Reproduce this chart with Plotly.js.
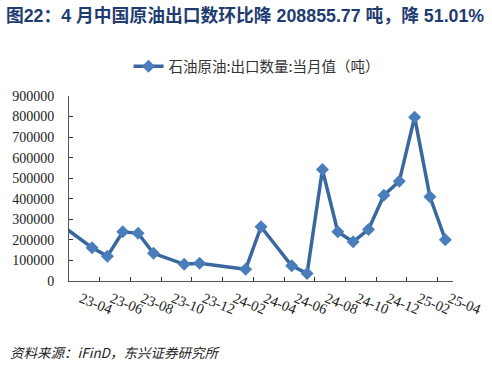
<!DOCTYPE html>
<html>
<head>
<meta charset="utf-8">
<script src="https://cdn.plot.ly/plotly-3.0.1.min.js"></script>
<style>html,body{margin:0;padding:0;background:#fff;}#chart{width:492px;height:369px;}</style>
</head>
<body>
<div id="chart"></div>
<script>
// Monthly crude oil exports (tonnes); some months missing in source
const months = ["23-03","23-05","23-06","23-07","23-08","23-09","23-11","23-12","24-03","24-04","24-06","24-07","24-08","24-09","24-10","24-11","24-12","25-01","25-02","25-03","25-04"];
const exportsT = [272000,162000,121000,239000,232000,134500,81000,86000,57000,264000,74000,37000,542000,239000,191000,251000,417000,485000,797000,409441,200585];
const tickLabels = ["23-04","23-06","23-08","23-10","23-12","24-02","24-04","24-06","24-08","24-10","24-12","25-02","25-04"];
const yTicks = [0,100000,200000,300000,400000,500000,600000,700000,800000,900000];

function monthIndex(m){ const p = m.split("-"); return (parseInt(p[0])-23)*12 + (parseInt(p[1])-4); }
const xs = months.map(m => monthIndex(m) + 0.5);
const tickVals = tickLabels.map(monthIndex);

const trace = {
  x: xs, y: exportsT, type: "scatter", mode: "lines+markers",
  name: "石油原油:出口数量:当月值（吨）",
  line: {color: "#3a679e", width: 3.5},
  marker: {symbol: "diamond", size: 10, color: "#4a7ebb"}
};

const layout = {
  width: 492, height: 369,
  margin: {l: 69, r: 39, t: 96, b: 88},
  paper_bgcolor: "#fff", plot_bgcolor: "#fff",
  title: {text: "<b>图22：4 月中国原油出口数环比降 208855.77 吨，降 51.01%</b>",
    font: {family: "Liberation Sans, Noto Sans CJK SC, sans-serif", size: 17.8, color: "#1f3c70"},
    xref: "container", x: 0.012, xanchor: "left", yref: "container", y: 0.958, yanchor: "middle"},
  showlegend: true,
  legend: {x: 0.155, xanchor: "left", y: 1.16, yanchor: "middle", orientation: "h",
    font: {family: "Noto Sans CJK SC, sans-serif", size: 14.5, color: "#333"}, bgcolor: "rgba(0,0,0,0)"},
  xaxis: {range: [0, 25], tickmode: "array", tickvals: tickVals, ticktext: tickLabels,
    tickangle: 22, ticks: "inside", ticklen: 4, tickcolor: "#333", showgrid: false, zeroline: false,
    showline: true, linecolor: "#555", linewidth: 1, ticklabelstandoff: 3, ticklabelshift: 12,
    tickfont: {family: "Liberation Serif, serif", size: 14.5, color: "#222"}},
  yaxis: {range: [0, 900000], tickmode: "array", tickvals: yTicks, ticktext: yTicks.map(String),
    ticks: "inside", ticklen: 4, tickcolor: "#333", showgrid: false, zeroline: false,
    showline: true, linecolor: "#555", linewidth: 1, ticklabelstandoff: 11,
    tickfont: {family: "Liberation Serif, serif", size: 14, color: "#222"}},
  annotations: [{text: "<i>资料来源：iFinD，东兴证券研究所</i>", xref: "paper", yref: "paper",
    x: -0.159, y: -0.383, xanchor: "left", yanchor: "middle", showarrow: false,
    font: {family: "Noto Sans CJK SC, sans-serif", size: 13.5, color: "#222"}}]
};

Plotly.newPlot("chart", [trace], layout, {displayModeBar: false, staticPlot: true});
</script>
</body>
</html>
